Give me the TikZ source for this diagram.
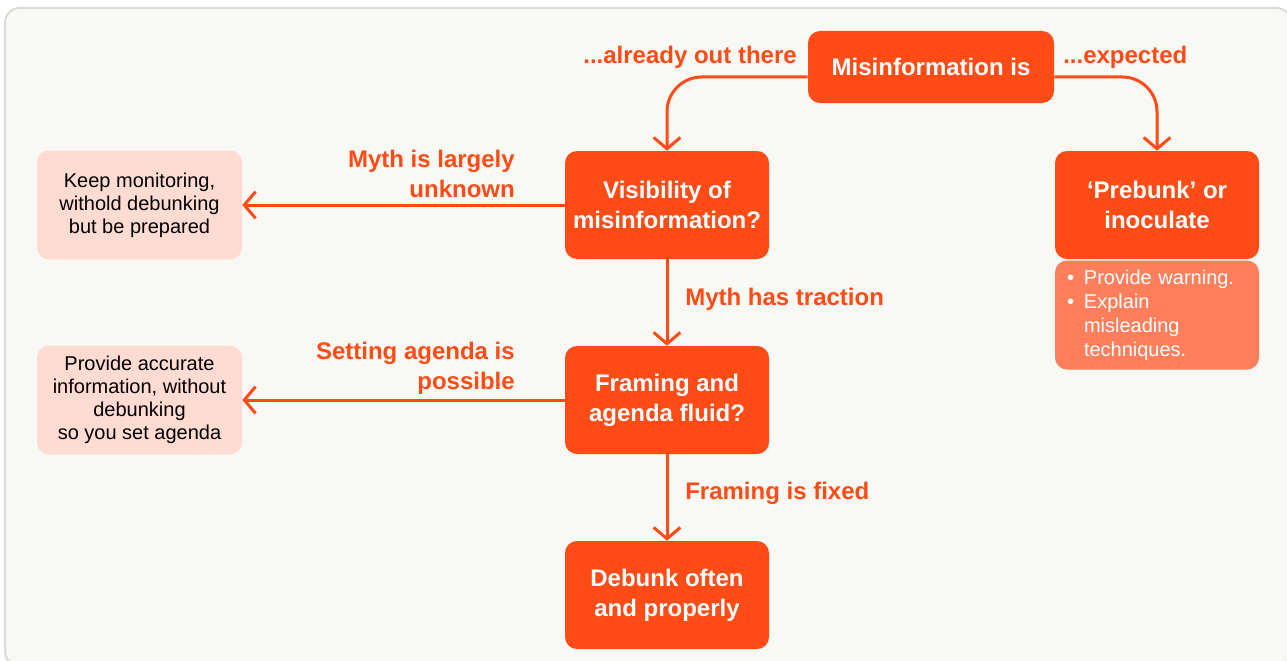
\documentclass[tikz,border=0pt]{standalone}
\usepackage{fontspec}
\setmainfont{Liberation Sans}
\usetikzlibrary{arrows.meta}

\definecolor{flame}{HTML}{FF4B16}
\definecolor{blush}{HTML}{FFDBD1}
\definecolor{coral}{HTML}{FF7E5C}
\definecolor{paper}{HTML}{F8F8F4}
\definecolor{rim}{HTML}{DADAD8}

\newcommand{\bul}{\makebox[12.75pt][l]{\textbullet}}
\newcommand{\hang}{\hspace*{12.75pt}}

\tikzset{
  decision/.style={rectangle, rounded corners=9pt, fill=flame, text=white,
    font=\bfseries\fontsize{18}{22.5}\selectfont, align=center,
    minimum width=153pt, minimum height=81pt, inner sep=0pt},
  outcome/.style={rectangle, rounded corners=9pt, fill=blush, text=black,
    font=\fontsize{15}{17.25}\selectfont, align=center,
    minimum width=153.75pt, minimum height=81.75pt, inner sep=0pt},
  tips/.style={rectangle, rounded corners=9pt, fill=coral, text=white,
    font=\fontsize{15}{18}\selectfont, align=left, text width=135pt,
    minimum width=153pt, minimum height=81.75pt, inner xsep=9pt, inner ysep=0pt},
  tag/.style={text=flame, font=\bfseries\fontsize{18}{22.5}\selectfont, inner sep=0pt},
  flow/.style={draw=flame, line width=2.25pt, -{Straight Barb[length=8.5pt,width=20pt]}},
}

\begin{document}
\begin{tikzpicture}[x=0.75pt, y=-0.75pt]
\useasboundingbox (0,0) rectangle (1287,660);
\clip (0,0) rectangle (1287,660);

% backdrop
\draw[rounded corners=11pt, draw=rim, fill=paper, line width=1.5pt] (5,8) rectangle (1291,666);

% decision boxes
\node[decision, minimum width=184.5pt, minimum height=54pt] (mis) at (931,67) {Misinformation is};
\node[decision] (vis) at (667,205) {Visibility of\\misinformation?};
\node[decision] (frame) at (667,400) {Framing and\\agenda fluid?};
\node[decision] (debunk) at (667,595) {Debunk often\\and properly};
\node[decision] (prebunk) at (1157,205) {`Prebunk' or\\inoculate};
\node[tips] (advice) at (1157,315) {\bul Provide warning.\\\bul Explain\\\hang misleading\\\hang techniques.};

% outcome boxes
\node[outcome] (keep) at (139.5,205) {Keep monitoring,\\withold debunking\\but be prepared};
\node[outcome] (accurate) at (139.5,400) {Provide accurate\\information, without\\debunking\\so you set agenda};

% labels
\node[tag, anchor=east] (outthere) at (797,57) {...already out there};
\node[tag, anchor=west] (expected) at (1063,57) {...expected};
\node[tag, anchor=east, align=right] (unknown) at (515,174) {Myth is largely\\unknown};
\node[tag, anchor=west] (traction) at (685,299) {Myth has traction};
\node[tag, anchor=east, align=right] (possible) at (515,368) {Setting agenda is\\possible};
\node[tag, anchor=west] (fixed) at (685,493) {Framing is fixed};

% connectors
\draw[flow, rounded corners=26pt] ([yshift=-7.5pt]mis.west) -| (vis.north);
\draw[flow, rounded corners=26pt] ([yshift=-7.5pt]mis.east) -| (prebunk.north);
\draw[flow] (vis.west) -- (keep.east);
\draw[flow] (vis.south) -- (frame.north);
\draw[flow] (frame.west) -- (accurate.east);
\draw[flow] (frame.south) -- (debunk.north);

\end{tikzpicture}
\end{document}
